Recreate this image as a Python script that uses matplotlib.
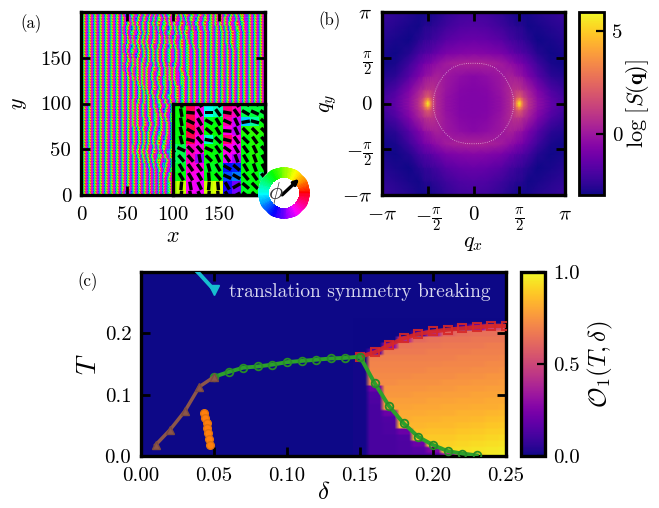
import numpy as np
import matplotlib
matplotlib.use('Agg')
import matplotlib.pyplot as plt
from matplotlib.colors import Normalize

plt.rcParams['font.family'] = ['cmr10', 'DejaVu Sans']
plt.rcParams['mathtext.fontset'] = 'cm'
plt.rcParams['axes.unicode_minus'] = False

W, H = 659, 508

# panel (a): stripe hues per site, three alternating rows
stripe_a = [300, 215, 150, 100, 60, 330]
stripe_b = [320, 250, 190, 130, 350, 290]
stripe_c = [290, 200, 120, 70, 20, 310]
# sideways stripe shift in 10x10 blocks, top row first
stripe_shift = [
    [0,0,0,0,0,1,0,0,1,2,1,2,1,0,0,1,1,2,0,0],
    [0,0,0,0,0,0,1,1,2,1,2,1,2,1,0,1,2,1,0,0],
    [0,0,0,0,0,1,0,1,1,2,1,2,1,0,0,0,1,0,0,0],
    [0,0,0,0,0,0,1,2,1,1,2,1,1,0,0,0,1,0,0,0],
    [0,0,0,0,0,1,0,1,2,2,1,1,0,0,0,0,0,0,0,0],
    [0,0,0,0,0,0,1,1,2,2,1,1,0,0,0,0,0,0,0,0],
    [0,0,0,0,0,1,1,2,1,1,2,1,0,0,0,0,0,0,0,0],
    [0,0,0,0,0,0,1,2,2,1,2,0,0,0,0,0,0,0,0,0],
    [0,0,0,0,0,0,0,2,1,1,1,0,0,0,0,0,0,0,0,0],
    [0,0,0,0,0,0,0,1,2,2,1,0,0,0,0,0,0,0,0,0],
    [0,0,0,0,0,0,1,1,1,0,0,0,0,0,0,0,0,0,0,0],
    [0,0,0,0,0,0,1,1,0,1,0,0,0,0,0,0,0,0,0,0],
    [0,0,0,0,0,0,1,0,0,0,0,0,0,0,0,0,0,0,0,0],
    [0,0,0,0,0,0,0,1,1,0,0,0,0,0,0,0,0,0,0,0],
    [0,0,0,0,0,0,0,1,2,1,0,0,0,0,0,0,0,0,0,0],
    [0,0,0,0,0,0,1,2,1,2,0,0,0,0,0,0,0,0,0,0],
    [0,0,0,0,0,0,0,1,2,0,0,0,0,0,0,0,0,0,0,0],
    [0,0,0,0,0,0,0,0,1,1,0,0,0,0,0,0,0,0,0,0],
    [0,0,0,0,0,0,0,0,1,2,2,0,0,0,0,0,0,0,0,0],
    [0,0,0,0,0,0,0,0,1,2,1,0,0,0,0,0,0,0,0,0],
]

# inset of panel (a)
inset_hue = [
    [120,125,345,310,180,165,335,320,140,135,135],
    [120,125,345,310,180,165,335,320,140,135,135],
    [125,125,345,315,130,125,325,295,195,160,125],
    [125,125,350,320,120,120,310,290,115,110,115],
    [130,125,345,310,170,130,340,310,125,115,120],
    [150,140,320,310,120,125,310,300,125,115,125],
    [145,140,320,280,125,125,300,285,125,115,125],
    [135,130,315,310,130,130,240,235,125,125,125],
    [130,125,310,305,125,125,225,215,125,125,150],
    [85,75,305,300,75,70,250,270,130,125,130],
    [85,75,305,300,75,70,250,270,130,125,130],
]
inset_phi = [
    [-70,-80,-5,-60,0,-55,-10,-55,-30,-25,-30],
    [-70,-80,-5,-60,0,-55,-10,-55,-30,-25,-30],
    [-70,-80,-25,-60,-30,-60,-25,-65,10,-15,-40],
    [-70,-75,-30,-60,-40,-60,-5,-65,-45,-45,-45],
    [-70,-75,-15,-50,-10,-45,-15,-55,-45,-55,-50],
    [-50,-25,-45,-50,-25,-55,-35,-60,-55,-65,-50],
    [-60,-50,-50,-80,-45,-65,-55,-70,-60,-70,-60],
    [-70,-60,-55,-55,-75,-60,-30,-40,-60,-70,-60],
    [-80,-60,-60,-60,-85,-50,-25,-30,-50,-55,-50],
    [90,85,-80,-65,85,95,-60,30,-40,-45,-40],
    [90,85,-80,-65,85,95,-60,30,-40,-45,-40],
]

# panel (b): log S(q) on one quadrant, in units of pi
qx_nodes = [0, .15, .3, .4, .45, .47, .5, .53, .55, .6, .7, .85, 1]
qy_nodes = [0, .03, .07, .15, .3, .44, .55, .7, .85, 1]
log_s = [
    [-.7,-.6,-.2,.5,1.8,3.5,5.9,3.5,2.2,.8,-.3,-1.4,-2.0],
    [-.7,-.6,-.2,.5,1.7,3.0,4.5,3.0,2.0,.8,-.3,-1.4,-2.0],
    [-.7,-.6,-.2,.5,1.3,1.8,2.3,1.8,1.3,.6,-.4,-1.5,-2.1],
    [-.65,-.55,-.1,.5,.9,.95,.95,.85,.6,.2,-.7,-1.8,-2.3],
    [-.5,-.3,0,.3,.15,0,-.1,-.2,-.4,-.8,-1.6,-2.5,-2.7],
    [.4,.35,.1,-.3,-.5,-.7,-.8,-.9,-1.1,-1.4,-2.1,-2.8,-2.9],
    [-.5,-.6,-.8,-1.2,-1.4,-1.5,-1.6,-1.7,-1.8,-2,-2.6,-2.9,-2.8],
    [-1.2,-1.3,-1.6,-2,-2.1,-2.2,-2.3,-2.3,-2.4,-2.6,-2.9,-2.8,-2.6],
    [-1.7,-1.8,-2.1,-2.4,-2.5,-2.6,-2.6,-2.6,-2.7,-2.85,-2.8,-2.6,-2.4],
    [-2,-2.1,-2.4,-2.7,-2.8,-2.85,-2.85,-2.85,-2.85,-2.8,-2.6,-2.4,-2.2],
]
ring_angle = [0, 10, 20, 30, 40, 50, 60, 70, 80, 90]
ring_radius = [.44, .44, .44, .44, .445, .45, .455, .45, .445, .44]

# panel (c): order parameter, rows T = 0.00 .. 0.22, columns delta = 0.15 .. 0.25
op_delta = [.15, .16, .17, .18, .19, .20, .21, .22, .23, .24, .25]
op_temp = [i / 100 for i in range(23)]
op_values = [
    [.01,.12,.12,.13,.14,.16,.30,.70,.92,.97,.99],
    [.01,.12,.12,.13,.15,.25,.93,.94,.95,.96,.97],
    [.01,.12,.12,.13,.20,.90,.91,.92,.93,.94,.95],
    [.01,.12,.12,.14,.88,.89,.89,.90,.91,.92,.93],
    [.01,.12,.13,.20,.86,.87,.87,.88,.89,.90,.91],
    [.01,.12,.13,.84,.84,.85,.85,.86,.87,.88,.89],
    [.01,.12,.14,.82,.83,.83,.84,.84,.85,.86,.87],
    [.01,.12,.20,.81,.81,.82,.82,.83,.83,.84,.85],
    [.01,.12,.79,.79,.80,.80,.81,.81,.82,.82,.83],
    [.01,.13,.78,.78,.78,.79,.79,.80,.80,.81,.81],
    [.01,.14,.76,.76,.77,.77,.78,.78,.79,.79,.80],
    [.01,.20,.75,.75,.75,.76,.76,.77,.77,.78,.78],
    [.01,.73,.73,.74,.74,.74,.75,.75,.76,.76,.77],
    [.01,.72,.72,.72,.73,.73,.73,.74,.74,.75,.75],
    [.01,.71,.71,.71,.71,.72,.72,.72,.73,.73,.74],
    [.01,.70,.70,.70,.70,.70,.71,.71,.71,.72,.72],
    [.01,.69,.69,.69,.69,.69,.69,.70,.70,.70,.71],
    [0,.15,.67,.67,.67,.68,.68,.68,.69,.69,.69],
    [0,0,.30,.65,.66,.66,.67,.67,.67,.68,.68],
    [0,0,0,.40,.62,.64,.65,.65,.66,.66,.66],
    [0,0,0,0,.10,.40,.60,.63,.64,.64,.65],
    [0,0,0,0,0,0,0,.10,.30,.50,.55],
    [0,0,0,0,0,0,0,0,0,0,0],
]

brown_delta = [.01, .02, .03, .04, .05]
brown_t = [.018, .043, .073, .113, .129]
green_delta = [.05, .06, .07, .08, .09, .10, .11, .12, .13, .14, .15,
               .16, .17, .18, .19, .20, .21, .22, .23]
green_t = [.129, .137, .144, .146, .149, .153, .155, .157, .159, .16, .162,
           .119, .081, .053, .031, .018, .008, .004, .001]
red_delta = [.15, .16, .17, .18, .19, .20, .21, .22, .23, .24, .25]
red_t = [.162, .169, .181, .192, .199, .203, .206, .208, .21, .212, .212]
orange_delta = [.043, .044, .0449, .0455, .046, .0465, .047]
orange_t = [.07, .0615, .054, .046, .0375, .027, .018]
cyan_delta = [.03, .04, .05]
cyan_t = [.32, .297, .271]


def box(l, t, r, b):
    return [l / W, 1 - b / H, (r - l) / W, (b - t) / H]


def style(ax, width=2.4):
    for s in ax.spines.values():
        s.set_linewidth(width)
    ax.tick_params(direction='in', length=6.5, width=2, top=True, right=True,
                   labelsize=15)
    ax.tick_params(axis='x', pad=8)
    ax.tick_params(axis='y', pad=7)


fig = plt.figure(figsize=(W / 100, H / 100), dpi=100)

# (a)
ax = fig.add_axes(box(81, 12, 265, 195))
patterns = [stripe_a, stripe_b, stripe_c]
rows = []
for y in range(200):
    base = patterns[y % 3]
    row = []
    for x in range(200):
        shift = stripe_shift[y // 10][x // 10] + stripe_shift[((y + 5) // 10) % 20][((x + 5) // 10) % 20]
        row.append(base[(x + shift) % 6])
    rows.append(row)
ax.imshow(plt.get_cmap('hsv')(np.array(rows) / 360), extent=[0, 200, 0, 200],
          aspect='auto', interpolation='bilinear')
ax.set_xlim(0, 200)
ax.set_ylim(0, 200)
ax.set_xticks([0, 50, 100, 150])
ax.set_yticks([0, 50, 100, 150])
style(ax)
ax.set_xlabel(r'$x$', fontsize=16, labelpad=2)
ax.set_ylabel(r'$y$', fontsize=16, labelpad=8)

ins = fig.add_axes(box(173, 103.5, 265, 195))
ins.imshow(np.array(inset_hue) / 360, cmap='hsv', vmin=0, vmax=1, origin='upper',
           extent=[0, 11, 11, 0], aspect='auto', interpolation='nearest')
cx, cy = np.meshgrid(np.arange(11) + .5, np.arange(11) + .5)
phi = np.radians(inset_phi)
ins.quiver(cx, cy, 8.5 * np.cos(phi), 8.5 * np.sin(phi), pivot='mid', angles='uv',
           units='dots', scale_units='dots', scale=1, width=3.4, headwidth=1,
           headlength=0, headaxislength=0, color='black')
ins.set_xlim(.6, 10.6)
ins.set_ylim(10.5, .5)
ins.set_xticks([])
ins.set_yticks([])
for s in ins.spines.values():
    s.set_linewidth(2.4)

# colour wheel
wheel = fig.add_axes(box(258, 167, 310, 219), projection='polar')
theta = np.radians(np.arange(0, 361, 3))
th, rr = np.meshgrid(theta, [.58, 1])
wheel.pcolormesh(th, rr, (th[:-1, :-1] + .02) / (2 * np.pi), cmap='hsv', vmin=0, vmax=1,
                 shading='flat', rasterized=True)
wheel.set_ylim(0, 1)
wheel.set_xticks([])
wheel.set_yticks([])
wheel.grid(False)
wheel.spines['polar'].set_visible(False)
wheel.annotate('', xy=(np.radians(43), .8), xytext=(np.radians(225), .1),
               arrowprops=dict(arrowstyle='-|>', lw=2.4, color='black', mutation_scale=7,
                               shrinkA=0, shrinkB=0))
fig.text(276 / W, 1 - 193 / H, r'$\phi$', fontsize=17, color='#333333', ha='center', va='center')

# (b)
ax = fig.add_axes(box(382, 12, 565, 195))
half_x = np.array(qx_nodes) * np.pi
half_y = np.array(qy_nodes) * np.pi
qx = np.concatenate([-half_x[:0:-1], half_x])
qy = np.concatenate([-half_y[:0:-1], half_y])
half_s = np.array(log_s)
half_s = np.hstack([half_s[:, :0:-1], half_s])
full_s = np.vstack([half_s[:0:-1], half_s])
mesh = ax.pcolormesh(qx, qy, full_s, cmap='plasma', vmin=-2.95, vmax=5.9, shading='gouraud')
ang = np.radians(ring_angle)
rad = np.array(ring_radius) * np.pi
rx = rad * np.cos(ang)
ry = rad * np.sin(ang)
ring_x = np.concatenate([rx, -rx[::-1], -rx, rx[::-1]])
ring_y = np.concatenate([ry, ry[::-1], -ry, -ry[::-1]])
ax.plot(ring_x, ring_y, color='white', lw=.6, ls=':', alpha=.65)
ax.set_xlim(-np.pi, np.pi)
ax.set_ylim(-np.pi, np.pi)
pi_ticks = [-np.pi, -np.pi / 2, 0, np.pi / 2, np.pi]
pi_labels = [r'$-\pi$', r'$-\frac{\pi}{2}$', r'$0$', r'$\frac{\pi}{2}$', r'$\pi$']
ax.set_xticks(pi_ticks)
ax.set_xticklabels(pi_labels)
ax.set_yticks(pi_ticks)
ax.set_yticklabels(pi_labels)
style(ax)
ax.set_xlabel(r'$q_x$', fontsize=16, labelpad=0)
ax.set_ylabel(r'$q_y$', fontsize=16, labelpad=2)

cax = fig.add_axes(box(579, 12, 604, 195))
cb = fig.colorbar(mesh, cax=cax)
cb.set_ticks([0, 5])
cb.set_ticklabels(['0', '5'])
cb.outline.set_linewidth(2)
cax.tick_params(direction='in', length=6, width=1.6, labelsize=15, pad=6)
cb.set_label(r'$\log\,[S(\mathbf{q})]$', fontsize=16, labelpad=1)

# (c)
ax = fig.add_axes(box(141, 272, 506, 456))
ax.set_facecolor(plt.get_cmap('plasma')(0.0))
fine = np.repeat(np.repeat(np.array(op_values), 3, axis=0), 3, axis=1)
img = ax.imshow(fine, cmap='plasma', norm=Normalize(0, 1), origin='lower', aspect='auto',
                extent=[op_delta[0] - .005, op_delta[-1] + .005, op_temp[0] - .005, op_temp[-1] + .005],
                interpolation='bilinear')
ax.plot(cyan_delta, cyan_t, color='#17becf', lw=2.8, marker='v', ms=7, markevery=[2], zorder=3)
ax.plot(red_delta, red_t, color='#d62728', lw=3, marker='s', ms=6, mfc='none', mew=1.5,
        alpha=.9, zorder=3)
ax.plot(green_delta, green_t, color='#2ca02c', lw=2.8, marker='o', ms=5.5, mfc='none', mew=1.3,
        mec='#278c27', zorder=4)
ax.plot(brown_delta, brown_t, color='#8c564b', lw=2.5, marker='^', ms=6, mec='#7a4a40', zorder=5)
ax.plot(orange_delta, orange_t, color='#ff7f0e', lw=2.5, marker='o', ms=5.5, mec='#e5720c', zorder=3)
ax.set_xlim(0, .25)
ax.set_ylim(0, .3)
ax.set_xticks([0, .05, .10, .15, .20, .25])
ax.set_xticklabels(['0.00', '0.05', '0.10', '0.15', '0.20', '0.25'])
ax.set_yticks([0, .1, .2])
ax.set_yticklabels(['0.0', '0.1', '0.2'])
style(ax)
ax.set_xlabel(r'$\delta$', fontsize=18, labelpad=-2)
ax.set_ylabel(r'$T$', fontsize=20, labelpad=2)
ax.text(.0605, .2675, 'translation symmetry breaking', color='#d9d9f0', fontsize=14,
        ha='left', va='center')

cax = fig.add_axes(box(521, 272, 545, 456))
cb = fig.colorbar(img, cax=cax)
cb.set_ticks([0, .5, 1])
cb.set_ticklabels(['0.0', '0.5', '1.0'])
cb.outline.set_linewidth(2.4)
cax.tick_params(direction='in', length=6, width=1.6, labelsize=15, pad=6)
cb.set_label(r'$\mathcal{O}_1(T,\delta)$', fontsize=18, labelpad=4)

fig.text(20 / W, 1 - 24 / H, '(a)', fontsize=12, va='center')
fig.text(318 / W, 1 - 21 / H, '(b)', fontsize=12, va='center')
fig.text(77 / W, 1 - 282 / H, '(c)', fontsize=12, va='center')

fig.savefig('out.png', dpi=100)
